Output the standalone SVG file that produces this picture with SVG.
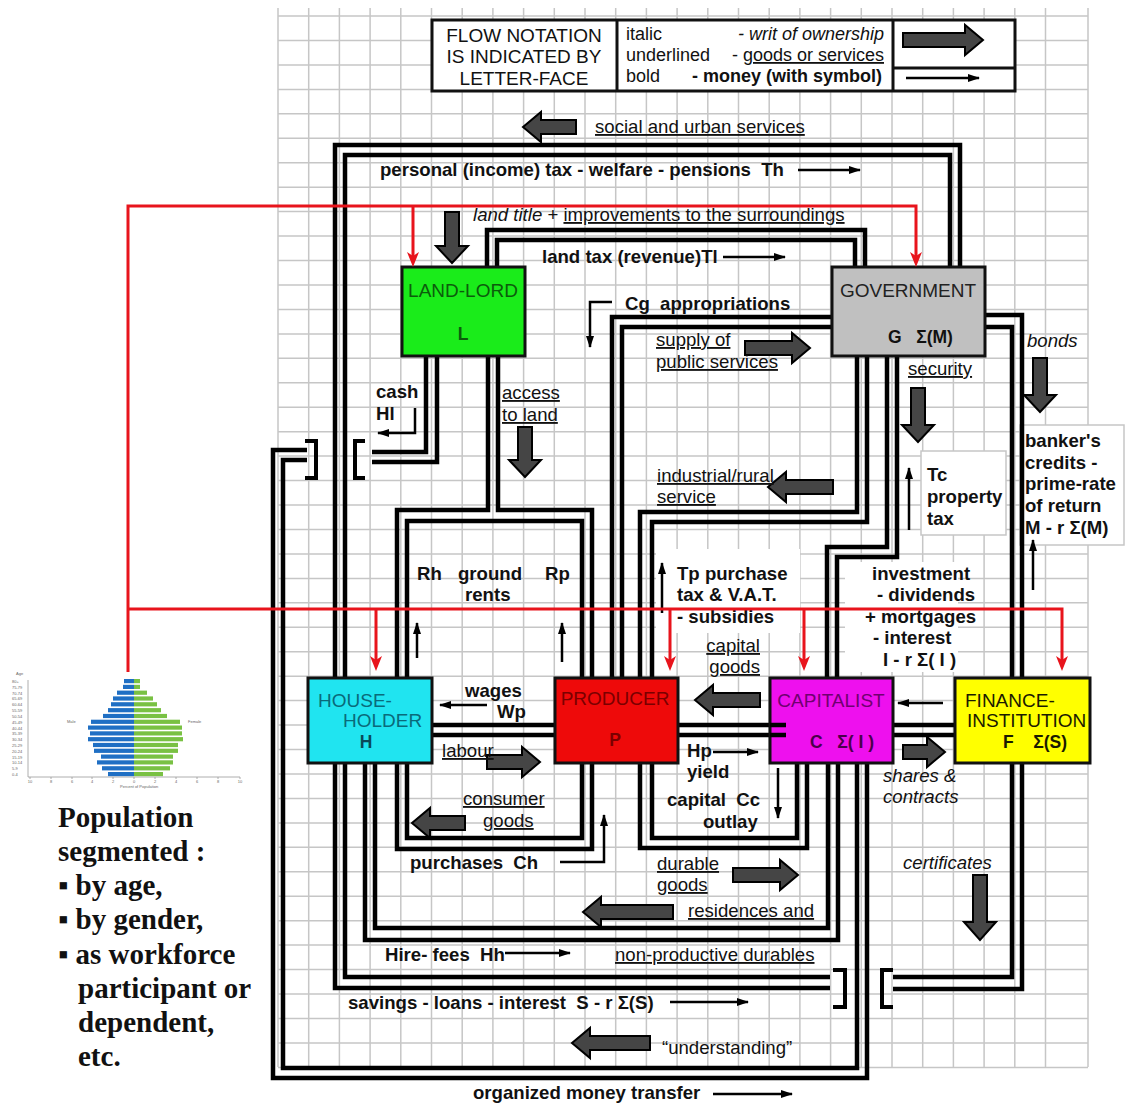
<svg xmlns="http://www.w3.org/2000/svg" width="1125" height="1104" viewBox="0 0 1125 1104">
<defs>
<style>
.grid{fill:none;stroke:#c6c6c6;stroke-width:1.5}
.p{fill:none;stroke:#000;stroke-width:4.5;stroke-linejoin:miter;stroke-linecap:butt}
.br{fill:none;stroke:#000;stroke-width:4}
.t{font-family:"Liberation Sans",Arial,sans-serif;font-size:18.6px;fill:#111}
.lg{font-size:18px}
.b{font-weight:bold}
.i{font-style:italic}
.u{text-decoration:underline}
.ba{fill:#454545;stroke:#000;stroke-width:2;stroke-linejoin:miter}
.ta{fill:none;stroke:#000;stroke-width:2.5;marker-end:url(#ah)}
.red{fill:none;stroke:#e8141c;stroke-width:3}
.rh{fill:#e8141c}
.box{stroke:#111;stroke-width:3}
.nt{font-family:"Liberation Sans",Arial,sans-serif;font-size:19px}
.sym{font-size:17.5px;font-weight:bold}
.pop{font-family:"Liberation Serif","Times New Roman",serif;font-size:29px;font-weight:bold;fill:#111}
.tiny{font-family:"Liberation Sans",Arial,sans-serif;font-size:4px;fill:#666}
</style>
<marker id="ah" viewBox="0 0 12 8" refX="11" refY="4" markerWidth="4.8" markerHeight="3.2" orient="auto"><path d="M0,0 L12,4 L0,8 z" fill="#000"/></marker>
</defs>
<rect width="1125" height="1104" fill="#fff"/>

<g id="grid">
<path class="grid" d="M278 8V1067M308.7 8V1067M339.4 8V1067M370.1 8V1067M400.8 8V1067M431.5 8V1067M462.2 8V1067M492.9 8V1067M523.6 8V1067M554.3 8V1067M585 8V1067M615.7 8V1067M646.4 8V1067M677.1 8V1067M707.8 8V1067M738.5 8V1067M769.2 8V1067M799.9 8V1067M830.6 8V1067M861.3 8V1067M892 8V1067M922.7 8V1067M953.4 8V1067M984.1 8V1067M1014.8 8V1067M1045.5 8V1067M1088 8V1067"/>
<path class="grid" d="M278 16H1088M278 40.5H1088M278 64.9H1088M278 89.4H1088M278 113.8H1088M278 138.3H1088M278 162.7H1088M278 187.2H1088M278 211.6H1088M278 236.1H1088M278 260.5H1088M278 285H1088M278 309.4H1088M278 333.9H1088M278 358.3H1088M278 382.8H1088M278 407.2H1088M278 431.7H1088M278 456.1H1088M278 480.6H1088M278 505H1088M278 529.5H1088M278 553.9H1088M278 578.4H1088M278 602.8H1088M278 627.3H1088M278 651.7H1088M278 676.2H1088M278 700.6H1088M278 725.1H1088M278 749.5H1088M278 774H1088M278 798.4H1088M278 822.9H1088M278 847.3H1088M278 871.8H1088M278 896.2H1088M278 920.7H1088M278 945.1H1088M278 969.6H1088M278 994H1088M278 1018.5H1088M278 1042.9H1088M278 1067.4H1088"/>
<rect x="656" y="549" width="144" height="84" fill="#fff"/>
<rect x="845" y="562" width="113" height="110" fill="#fff"/>
<rect x="921" y="451" width="85" height="84" fill="#fff" stroke="#c6c6c6" stroke-width="1.5"/>
<rect x="1020" y="425" width="104" height="120" fill="#fff" stroke="#c6c6c6" stroke-width="1.5"/>
</g>

<g id="legend">
<rect x="432" y="20" width="583" height="71" fill="#fff" stroke="#111" stroke-width="3"/>
<path d="M617 20V91M893 68H1015M893 20V91" fill="none" stroke="#111" stroke-width="3"/>
<text class="t" x="524" y="42" text-anchor="middle" style="font-size:19px">FLOW NOTATION</text>
<text class="t" x="524" y="63" text-anchor="middle" style="font-size:19px">IS INDICATED BY</text>
<text class="t" x="524" y="85" text-anchor="middle" style="font-size:19px">LETTER-FACE</text>
<text class="t lg" x="626" y="40">italic</text>
<text class="t i lg" x="884" y="40" text-anchor="end">- writ of ownership</text>
<text class="t lg" x="626" y="61">underlined</text>
<text class="t lg" x="884" y="61" text-anchor="end">- <tspan class="u">goods or services</tspan></text>
<text class="t lg" x="626" y="82">bold</text>
<text class="t b lg" x="882" y="82" text-anchor="end">- money (with symbol)</text>
<polygon class="ba" points="903,33 965,33 965,25 983,40 965,55 965,47 903,47"/>
<line class="ta" x1="906" y1="78" x2="979" y2="78"/>
</g>

<g id="connectors">
<path class="p" d="M335 678V145H960V267M345 678V155H950V267"/>
<path class="p" d="M487 267V230H865V267M497 267V240H855V267"/>
<path class="p" d="M426 356V452H372M437 356V462H372"/>
<path class="p" d="M307 450H273V1078H867V763M307 460H283V1068H857V763"/>
<path class="p" d="M488 356V510H397V678M498 356V510H592V678M407 678V521H582V678"/>
<path class="p" d="M397 763V849H592V763M407 763V838H582V763"/>
<path class="p" d="M640 763V848H807V763M652 763V838H797V763"/>
<path class="p" d="M335 763V988H830M345 763V977H830"/>
<path class="p" d="M365 763V940H838V763M375 763V928H828V763"/>
<path class="p" d="M832 317H612V678M832 327H622V678"/>
<path class="p" d="M857 356V512H640V678M867 356V522H652V678"/>
<path class="p" d="M887 356V547H827V678M897 356V557H837V678"/>
<path class="p" d="M985 315H1022V678M985 327H1012V678"/>
<path class="p" d="M1012 763V977H893M1022 763V989H893"/>
<path class="p" d="M432 725H555M432 735H555"/>
<path class="p" d="M678 725H770M678 735H770"/>
<path class="p" d="M893 725H955M893 735H955"/>
<path class="br" d="M305 441H316V478H305M365 441H355V478H365"/>
<path class="br" d="M833 970H845V1007H833M893 970H882V1007H893"/>
<polygon class="ba" points="576,120 541,120 541,112 523,127 541,142 541,134 576,134"/>
<polygon class="ba" points="445,212 459,212 459,246 468,246 452,263 436,246 445,246"/>
<polygon class="ba" points="745,341 792,341 792,333 810,348 792,363 792,355 745,355"/>
<polygon class="ba" points="518,427 532,427 532,460 541,460 525,477 509,460 518,460"/>
<polygon class="ba" points="833,480 786,480 786,472 768,487 786,502 786,494 833,494"/>
<polygon class="ba" points="911,388 925,388 925,425 934,425 918,442 902,425 911,425"/>
<polygon class="ba" points="1033,358 1047,358 1047,395 1056,395 1040,412 1024,395 1033,395"/>
<polygon class="ba" points="760,693 713,693 713,685 695,700 713,715 713,707 760,707"/>
<polygon class="ba" points="487,755 522,755 522,747 540,762 522,777 522,769 487,769"/>
<polygon class="ba" points="465,816 430,816 430,808 412,823 430,838 430,830 465,830"/>
<polygon class="ba" points="903,745 927,745 927,737 945,752 927,767 927,759 903,759"/>
<polygon class="ba" points="733,868 780,868 780,860 798,875 780,890 780,882 733,882"/>
<polygon class="ba" points="673,905 601,905 601,897 583,912 601,927 601,919 673,919"/>
<polygon class="ba" points="650,1036 590,1036 590,1028 572,1043 590,1058 590,1050 650,1050"/>
<polygon class="ba" points="973,875 987,875 987,922 996,922 980,940 964,922 973,922"/>
<line class="ta" x1="798" y1="170" x2="860" y2="170"/>
<line class="ta" x1="723" y1="257" x2="785" y2="257"/>
<polyline class="ta" points="612,302 590,302 590,347"/>
<polyline class="ta" points="415,408 415,433 378,433"/>
<line class="ta" x1="909" y1="530" x2="909" y2="468"/>
<line class="ta" x1="1033" y1="590" x2="1033" y2="540"/>
<line class="ta" x1="417" y1="658" x2="417" y2="623"/>
<line class="ta" x1="562" y1="662" x2="562" y2="623"/>
<line class="ta" x1="662" y1="613" x2="662" y2="563"/>
<line class="ta" x1="487" y1="705" x2="440" y2="705"/>
<line class="ta" x1="943" y1="703" x2="898" y2="703"/>
<line class="ta" x1="713" y1="752" x2="758" y2="752"/>
<line class="ta" x1="778" y1="768" x2="778" y2="818"/>
<polyline class="ta" points="560,862 604,862 604,815"/>
<line class="ta" x1="505" y1="953" x2="570" y2="953"/>
<line class="ta" x1="670" y1="1002" x2="748" y2="1002"/>
<line class="ta" x1="713" y1="1094" x2="792" y2="1094"/>
</g>

<g id="landlord">
<rect class="box" x="402" y="267" width="123" height="89" fill="#1aec1a"/>
<text class="nt" x="463" y="297" text-anchor="middle" fill="#0c5c0c">LAND-LORD</text>
<text class="nt sym" x="463" y="340" text-anchor="middle" fill="#0c5c0c">L</text>
</g>
<g id="government">
<rect class="box" x="832" y="267" width="153" height="89" fill="#c0c0c0"/>
<text class="nt" x="908" y="297" text-anchor="middle" fill="#222">GOVERNMENT</text>
<text class="nt sym" x="888" y="343" fill="#111" xml:space="preserve">G   Σ(M)</text>
</g>
<g id="householder">
<rect class="box" x="308" y="678" width="124" height="85" fill="#20e4f0"/>
<text class="nt" x="318" y="707" fill="#0a6a7a">HOUSE-</text>
<text class="nt" x="343" y="727" fill="#0a6a7a">HOLDER</text>
<text class="nt sym" x="366" y="748" text-anchor="middle" fill="#0a4a5a">H</text>
</g>
<g id="producer">
<rect class="box" x="555" y="678" width="123" height="85" fill="#ee0a0a"/>
<text class="nt" x="615" y="705" text-anchor="middle" fill="#7a0000">PRODUCER</text>
<text class="nt sym" x="615" y="746" text-anchor="middle" fill="#7a0000">P</text>
</g>
<g id="capitalist">
<rect class="box" x="770" y="678" width="123" height="85" fill="#ee10ee"/>
<path d="M770 725H786M770 735H786" stroke="#000" stroke-width="4.5"/>
<text class="nt" x="831" y="707" text-anchor="middle" fill="#700070">CAPITALIST</text>
<text class="nt sym" x="810" y="748" fill="#4a004a" xml:space="preserve">C   Σ( I )</text>
</g>
<g id="finance">
<rect class="box" x="955" y="678" width="135" height="85" fill="#ffff00"/>
<text class="nt" x="965" y="707" fill="#1a1a00">FINANCE-</text>
<text class="nt" x="967" y="727" fill="#1a1a00">INSTITUTION</text>
<text class="nt sym" x="1003" y="748" fill="#1a1a00" xml:space="preserve">F    Σ(S)</text>
</g>

<g id="labels">
<text class="t u" x="595" y="133">social and urban services</text>
<text class="t b" x="380" y="176" xml:space="preserve">personal (income) tax - welfare - pensions  Th</text>
<text class="t" x="473" y="221"><tspan class="i">land title</tspan> + <tspan class="u">improvements to the surroundings</tspan></text>
<text class="t b" x="542" y="263">land tax (revenue)Tl</text>
<text class="t b" x="625" y="310" xml:space="preserve">Cg  appropriations</text>
<text class="t u" x="656" y="346">supply of</text>
<text class="t u" x="656" y="368">public services</text>
<text class="t i" x="1027" y="347">bonds</text>
<text class="t b" x="376" y="398">cash</text>
<text class="t b" x="376" y="420">Hl</text>
<text class="t u" x="502" y="399">access</text>
<text class="t u" x="502" y="421">to land</text>
<text class="t u" x="908" y="375">security</text>
<text class="t u" x="657" y="482">industrial/rural</text>
<text class="t u" x="657" y="503">service</text>
<text class="t b" x="927" y="481">Tc</text>
<text class="t b" x="927" y="503">property</text>
<text class="t b" x="927" y="525">tax</text>
<text class="t b" x="1025" y="447">banker's</text>
<text class="t b" x="1025" y="469">credits -</text>
<text class="t b" x="1025" y="490">prime-rate</text>
<text class="t b" x="1025" y="512">of return</text>
<text class="t b" x="1025" y="534">M - r Σ(M)</text>
<text class="t b" x="417" y="580">Rh</text>
<text class="t b" x="458" y="580">ground</text>
<text class="t b" x="465" y="601">rents</text>
<text class="t b" x="545" y="580">Rp</text>
<text class="t b" x="677" y="580">Tp purchase</text>
<text class="t b" x="677" y="601">tax &amp; V.A.T.</text>
<text class="t b" x="677" y="623">- subsidies</text>
<text class="t b" x="872" y="580">investment</text>
<text class="t b" x="877" y="601">- dividends</text>
<text class="t b" x="865" y="623">+ mortgages</text>
<text class="t b" x="873" y="644">- interest</text>
<text class="t b" x="883" y="666" xml:space="preserve">I - r Σ( I )</text>
<text class="t u" x="760" y="652" text-anchor="end">capital</text>
<text class="t u" x="760" y="673" text-anchor="end">goods</text>
<text class="t b" x="465" y="697">wages</text>
<text class="t b" x="497" y="718">Wp</text>
<text class="t u" x="442" y="757">labour</text>
<text class="t b" x="687" y="757">Hp</text>
<text class="t b" x="687" y="778">yield</text>
<text class="t b" x="667" y="806" xml:space="preserve">capital  Cc</text>
<text class="t b" x="703" y="828">outlay</text>
<text class="t i" x="883" y="782">shares &amp;</text>
<text class="t i" x="883" y="803">contracts</text>
<text class="t u" x="463" y="805">consumer</text>
<text class="t u" x="483" y="827">goods</text>
<text class="t b" x="410" y="869" xml:space="preserve">purchases  Ch</text>
<text class="t i" x="903" y="869">certificates</text>
<text class="t u" x="657" y="870">durable</text>
<text class="t u" x="657" y="891">goods</text>
<text class="t u" x="688" y="917">residences and</text>
<text class="t b" x="385" y="961" xml:space="preserve">Hire- fees  Hh</text>
<text class="t u" x="615" y="961">non-productive durables</text>
<text class="t b" x="348" y="1009" xml:space="preserve">savings - loans - interest  S - r Σ(S)</text>
<text class="t" x="662" y="1054">“understanding”</text>
<text class="t b" x="473" y="1099">organized money transfer</text>
</g>

<g id="population">
<g fill="#1f6fc4">
<rect x="124" y="679" width="10" height="4.2"/><rect x="123" y="684.8" width="11" height="4.2"/><rect x="117" y="690.6" width="17" height="4.2"/><rect x="113" y="696.4" width="21" height="4.2"/><rect x="111" y="702.2" width="23" height="4.2"/><rect x="108" y="708.1" width="26" height="4.2"/><rect x="103" y="713.9" width="31" height="4.2"/><rect x="91" y="719.7" width="43" height="4.2"/><rect x="88" y="725.5" width="46" height="4.2"/><rect x="90" y="731.3" width="44" height="4.2"/><rect x="88" y="737.1" width="46" height="4.2"/><rect x="93" y="742.9" width="41" height="4.2"/><rect x="94" y="748.7" width="40" height="4.2"/><rect x="101" y="754.5" width="33" height="4.2"/><rect x="97" y="760.3" width="37" height="4.2"/><rect x="102" y="766.2" width="32" height="4.2"/><rect x="108" y="772" width="26" height="4.2"/>
</g>
<g fill="#79c143">
<rect x="134" y="679" width="6" height="4.2"/><rect x="134" y="684.8" width="6" height="4.2"/><rect x="134" y="690.6" width="13" height="4.2"/><rect x="134" y="696.4" width="19" height="4.2"/><rect x="134" y="702.2" width="23" height="4.2"/><rect x="134" y="708.1" width="27" height="4.2"/><rect x="134" y="713.9" width="33" height="4.2"/><rect x="134" y="719.7" width="46" height="4.2"/><rect x="134" y="725.5" width="48" height="4.2"/><rect x="134" y="731.3" width="48" height="4.2"/><rect x="134" y="737.1" width="49" height="4.2"/><rect x="134" y="742.9" width="44" height="4.2"/><rect x="134" y="748.7" width="44" height="4.2"/><rect x="134" y="754.5" width="39" height="4.2"/><rect x="134" y="760.3" width="39" height="4.2"/><rect x="134" y="766.2" width="36" height="4.2"/><rect x="134" y="772" width="29" height="4.2"/>
</g>
<path d="M28 777H240M30 777v2M51 777v2M72 777v2M92 777v2M113 777v2M134 777v2M155 777v2M176 777v2M197 777v2M218 777v2M240 777v2M28 680V777" stroke="#999" stroke-width="0.8" fill="none"/>
<text class="tiny" x="16" y="675">Age</text>
<text class="tiny" x="67" y="723">Male</text>
<text class="tiny" x="188" y="723">Female</text>
<text class="tiny" x="120" y="788">Percent of Population</text>
<g class="tiny" text-anchor="middle">
<text x="30" y="783">10</text><text x="51" y="783">8</text><text x="72" y="783">6</text><text x="92" y="783">4</text><text x="113" y="783">2</text><text x="134" y="783">0</text><text x="155" y="783">2</text><text x="176" y="783">4</text><text x="197" y="783">6</text><text x="218" y="783">8</text><text x="240" y="783">10</text>
</g>
<g class="tiny">
<text x="12" y="683">80+</text><text x="12" y="688.8">75-79</text><text x="12" y="694.6">70-74</text><text x="12" y="700.4">65-69</text><text x="12" y="706.2">60-64</text><text x="12" y="712.1">55-59</text><text x="12" y="717.9">50-54</text><text x="12" y="723.7">45-49</text><text x="12" y="729.5">40-44</text><text x="12" y="735.3">35-39</text><text x="12" y="741.1">30-34</text><text x="12" y="746.9">25-29</text><text x="12" y="752.7">20-24</text><text x="12" y="758.5">15-19</text><text x="12" y="764.3">10-14</text><text x="12" y="770.2">5-9</text><text x="12" y="776">0-4</text>
</g>
<text class="pop" x="58" y="827">Population</text>
<text class="pop" x="58" y="861">segmented :</text>
<text class="pop" x="58" y="895">▪ by age,</text>
<text class="pop" x="58" y="929">▪ by gender,</text>
<text class="pop" x="58" y="964">▪ as workforce</text>
<text class="pop" x="78" y="998">participant or</text>
<text class="pop" x="78" y="1032">dependent,</text>
<text class="pop" x="78" y="1066">etc.</text>
</g>

<g id="red-links">
<path class="red" d="M128 672V206H916V258M413 206V258M128 609H1062V662M376 609V662M670 609V662M804 609V662"/>
<polygon class="rh" points="407,252 413,267 419,252 413,256"/>
<polygon class="rh" points="910,252 916,267 922,252 916,256"/>
<polygon class="rh" points="370,656 376,671 382,656 376,660"/>
<polygon class="rh" points="664,656 670,671 676,656 670,660"/>
<polygon class="rh" points="798,656 804,671 810,656 804,660"/>
<polygon class="rh" points="1056,656 1062,671 1068,656 1062,660"/>
</g>
</svg>
